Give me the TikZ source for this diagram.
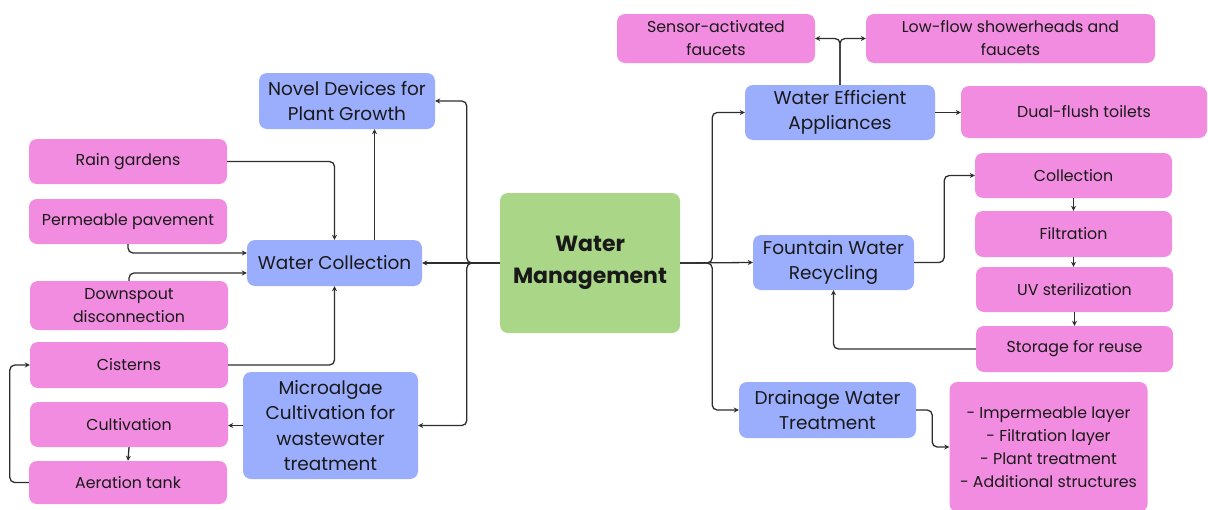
\documentclass[tikz,border=0pt]{standalone}
\usepackage{fontspec}
\setmainfont{Poppins}
\usetikzlibrary{arrows.meta}
\definecolor{bluefill}{RGB}{155,173,253}
\definecolor{pinkfill}{RGB}{242,140,224}
\definecolor{greenfill}{RGB}{170,214,135}
\definecolor{linecol}{RGB}{45,45,45}
\begin{document}
\begin{tikzpicture}[x=1pt,y=-1pt,
  base/.style={rounded corners=8pt, align=center, inner sep=0pt, text=black!90},
  bluebox/.style 2 args={base, fill=bluefill, minimum width=#1pt, minimum height=#2pt, font=\fontsize{18.5}{25.5}\selectfont},
  pinkbox/.style 2 args={base, fill=pinkfill, minimum width=#1pt, minimum height=#2pt, font=\fontsize{15.8}{23}\selectfont},
  greenbox/.style 2 args={base, fill=greenfill, minimum width=#1pt, minimum height=#2pt, font=\fontsize{22}{32}\selectfont\bfseries},
  conn/.style={draw=linecol, line width=1.3pt, rounded corners=5pt, -{Stealth[length=5pt,width=5pt]}}
]
\useasboundingbox (0,0) rectangle (1208,509);
% centre
\node[greenbox={180}{140}] (wm) at (590,263) {Water\\Management};
% left blue
\node[bluebox={176}{56}] (novel) at (347,101) {Novel Devices for\\Plant Growth};
\node[bluebox={175}{46}] (wc) at (334.5,263) {Water Collection};
\node[bluebox={175}{107}] (micro) at (330.5,425.5) {Microalgae\\Cultivation for\\wastewater\\treatment};
% left pink
\node[pinkbox={198}{45}] (rain) at (128,161.5) {Rain gardens};
\node[pinkbox={198}{45}] (perm) at (128,221.5) {Permeable pavement};
\node[pinkbox={198}{49}] (down) at (129,305.5) {Downspout\\disconnection};
\node[pinkbox={198}{46}] (cist) at (129,365) {Cisterns};
\node[pinkbox={198}{45}] (cult) at (129,424.5) {Cultivation};
\node[pinkbox={198}{43}] (aer) at (128,482.5) {Aeration tank};
% right
\node[pinkbox={198}{49}] (sensor) at (716,38.5) {Sensor-activated\\faucets};
\node[pinkbox={289}{49}] (lowflow) at (1010.5,38.5) {Low-flow showerheads and\\faucets};
\node[bluebox={190}{55}] (wea) at (840,112.5) {Water Efficient\\Appliances};
\node[pinkbox={246}{52}] (dual) at (1084,112) {Dual-flush toilets};
\node[bluebox={161}{55}] (fwr) at (833.5,262.5) {Fountain Water\\Recycling};
\node[pinkbox={197}{45}] (coll) at (1073.5,175.5) {Collection};
\node[pinkbox={197}{46}] (filt) at (1073.5,234) {Filtration};
\node[pinkbox={197}{45}] (uv) at (1074.5,289.5) {UV sterilization};
\node[pinkbox={197}{46}] (stor) at (1074.5,349) {Storage for reuse};
\node[bluebox={177}{56}] (drain) at (827.5,410) {Drainage Water\\Treatment};
\node[pinkbox={198}{130}] (list) at (1048.5,447) {- Impermeable layer\\- Filtration layer\\- Plant treatment\\- Additional structures};
% centre forks
\draw[conn] (wm.west) -- ++(-33,0) |- (novel.east);
\draw[conn] (wm.west) -- (wc.east);
\draw[conn] (wm.west) -- ++(-33,0) |- (micro.east);
\draw[conn] (wm.east) -- ++(32,0) |- (wea.west);
\draw[conn] (wm.east) -- (fwr.west);
\draw[conn] (wm.east) -- ++(32,0) |- (drain.west);
% left connectors
\draw[conn] (rain.east) -| (wc.north);
\draw[conn] (perm.south) |- ([yshift=10pt]wc.west);
\draw[conn] (down.north) |- ([yshift=-10pt]wc.west);
\draw[conn] (cist.east) -| (wc.south);
\draw[conn] ([xshift=40pt]wc.north) -- ([xshift=40pt]wc.north |- novel.south);
\draw[conn] (micro.west) -- (micro.west -| cult.east);
\draw[conn] (cult.south) -- (aer.north);
\draw[conn] (aer.west) -- ++(-19,0) |- (cist.west);
% right connectors
\draw[conn] (wea.north) |- (sensor.east);
\draw[conn] (wea.north) |- (lowflow.west);
\draw[conn] (wea.east) -- (wea.east -| dual.west);
\draw[conn] (fwr.east) -- ++(30,0) |- (coll.west);
\draw[conn] (coll.south) -- (filt.north);
\draw[conn] (filt.south) -- (filt.south |- uv.north);
\draw[conn] (uv.south) -- (stor.north);
\draw[conn] (stor.west) -| (fwr.south);
\draw[conn] (drain.east) -- ++(16,0) |- (list.west);
\end{tikzpicture}
\end{document}
